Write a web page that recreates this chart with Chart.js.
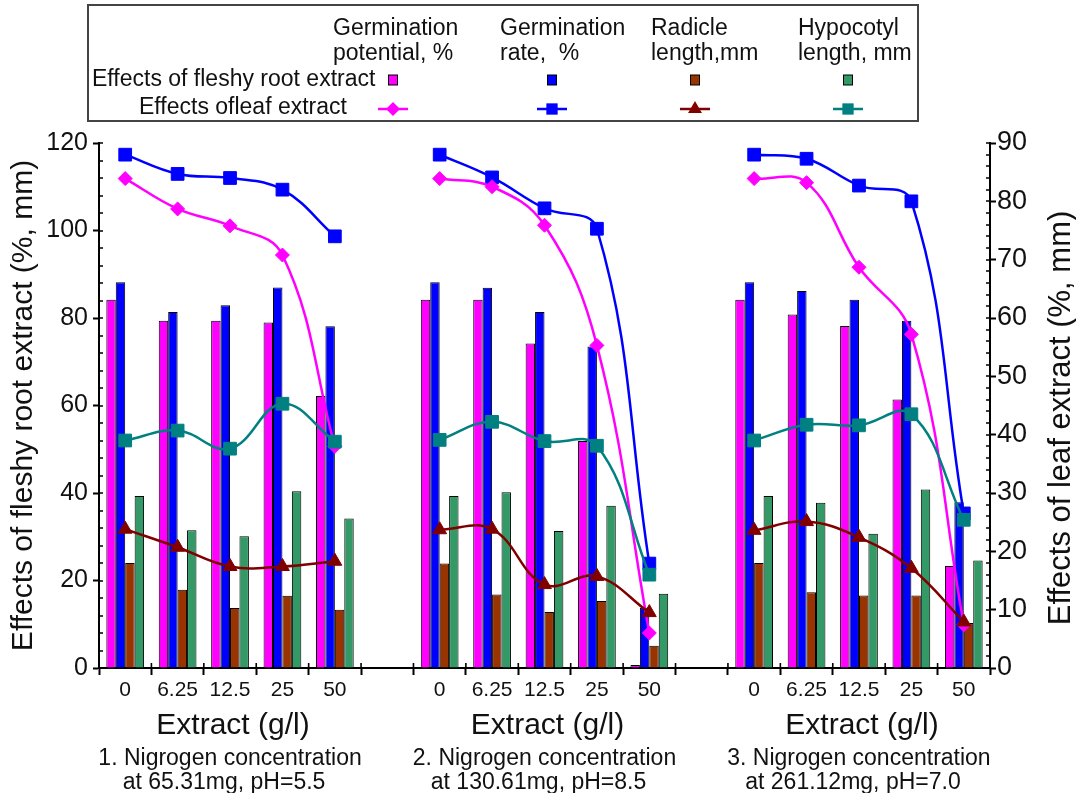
<!DOCTYPE html>
<html><head><meta charset="utf-8">
<script src="https://cdn.jsdelivr.net/npm/chart.js@4.4.1/dist/chart.umd.min.js"></script>
<style>html,body{margin:0;padding:0;background:#fff}</style>
</head><body>
<canvas id="c" width="1076" height="793"></canvas>
<script>
// ---------- data ----------
const concentrations = ['0', '6.25', '12.5', '25', '50'];
const xAxisTitle = 'Extract (g/l)';
const groupTitles = [
  ['1. Nigrogen concentration', 'at 65.31mg, pH=5.5'],
  ['2. Nigrogen concentration', 'at 130.61mg, pH=8.5'],
  ['3. Nigrogen concentration', 'at 261.12mg, pH=7.0']
];
const leftAxisTitle = 'Effects of fleshy root extract (%, mm)';
const rightAxisTitle = 'Effects of leaf extract (%, mm)';
const legendHeaders = [
  ['Germination', 'potential, %'],
  ['Germination', 'rate,  %'],
  ['Radicle', 'length,mm'],
  ['Hypocotyl', 'length, mm']
];
const legendRowLabels = ['Effects of fleshy root extract', 'Effects ofleaf extract'];

// fleshy root extract (bars, left axis), one list per nitrogen group
const rootGermPotential = [[84.2, 79.4, 79.4, 79.0, 62.2], [84.2, 84.2, 74.2, 51.9, 0.7], [84.2, 80.8, 78.2, 61.4, 23.3]];
const rootGermRate      = [[88.2, 81.4, 82.9, 87.0, 78.1], [88.2, 86.9, 81.4, 73.5, 13.8], [88.2, 86.2, 84.2, 79.4, 37.9]];
const rootRadicle       = [[24.0, 17.9, 13.7, 16.5, 13.3], [23.9, 16.8, 12.8, 15.3, 5.1], [24.0, 17.3, 16.6, 16.6, 10.3]];
const rootHypocotyl     = [[39.3, 31.5, 30.1, 40.4, 34.2], [39.3, 40.2, 31.3, 37.1, 17.0], [39.3, 37.8, 30.7, 40.8, 24.6]];
// leaf extract (lines, right axis)
const leafGermPotential = [[83.9, 78.7, 75.8, 70.8, 38.0], [83.9, 82.5, 75.9, 55.3, 6.0], [83.9, 83.2, 68.7, 57.2, 7.4]];
const leafGermRate      = [[88.0, 84.7, 84.0, 82.0, 74.0], [88.0, 84.1, 78.8, 75.3, 17.9], [88.0, 87.3, 82.7, 80.0, 26.5]];
const leafRadicle       = [[23.8, 20.7, 17.4, 17.4, 18.3], [23.7, 23.8, 14.3, 15.7, 9.5], [23.6, 25.1, 22.4, 17.1, 7.9]];
const leafHypocotyl     = [[39.0, 40.7, 37.6, 45.3, 38.8], [39.1, 42.2, 38.9, 38.1, 16.0], [39.0, 41.7, 41.6, 43.5, 25.4]];

// ---------- build library structures ----------
const labels = [];
groupTitles.forEach((g, i) => { labels.push(...concentrations); if (i < groupTitles.length - 1) labels.push(''); });
function withGaps(groups) {
  const out = [];
  groups.forEach((g, i) => { out.push(...g); if (i < groups.length - 1) out.push(null); });
  return out;
}

const FONT = "'Liberation Sans', Arial, Helvetica, sans-serif";
Chart.defaults.font.family = FONT;
Chart.defaults.color = '#111';

const C = {
  magenta: '#FF00FF', blue: '#0000FF', brown: '#993300', green: '#339966',
  wine: '#800000', teal: '#008080'
};

function lineDs(label, groups, color, style, r, legendIndex) {
  return {
    type: 'line', label, data: withGaps(groups), yAxisID: 'y1',
    borderColor: color, backgroundColor: color, borderWidth: 2.5,
    pointStyle: style, pointRadius: r, pointBackgroundColor: color,
    pointBorderColor: color, pointBorderWidth: 1, tension: 0.4,
    spanGaps: false, order: 0, legendIndex
  };
}
function barDs(label, groups, color, legendIndex) {
  return {
    type: 'bar', label, data: withGaps(groups), yAxisID: 'y',
    backgroundColor: color, borderColor: '#000', borderWidth: 1,
    categoryPercentage: 0.72, barPercentage: 1.0, order: 1, legendIndex
  };
}

// first listed line is drawn on top
const datasets = [
  lineDs('Leaf: hypocotyl length', leafHypocotyl, C.teal, 'rect', 9, 3),
  lineDs('Leaf: radicle length', leafRadicle, C.wine, 'triangle', 8, 2),
  lineDs('Leaf: germination potential', leafGermPotential, C.magenta, 'rectRot', 7, 0),
  lineDs('Leaf: germination rate', leafGermRate, C.blue, 'rect', 9, 1),
  barDs('Root: germination potential', rootGermPotential, C.magenta, 0),
  barDs('Root: germination rate', rootGermRate, C.blue, 1),
  barDs('Root: radicle length', rootRadicle, C.brown, 2),
  barDs('Root: hypocotyl length', rootHypocotyl, C.green, 3)
];

// ---------- custom drawing (legend table, titles, inner ticks) ----------
function drawMarker(ctx, style, cx, cy, r, color) {
  ctx.fillStyle = color;
  ctx.beginPath();
  if (style === 'rectRot') {
    ctx.moveTo(cx, cy - r); ctx.lineTo(cx + r, cy); ctx.lineTo(cx, cy + r); ctx.lineTo(cx - r, cy);
  } else if (style === 'triangle') {
    ctx.moveTo(cx, cy - r);
    ctx.lineTo(cx + r * Math.sin(2 * Math.PI / 3), cy - r * Math.cos(2 * Math.PI / 3));
    ctx.lineTo(cx + r * Math.sin(4 * Math.PI / 3), cy - r * Math.cos(4 * Math.PI / 3));
  } else {
    const s = Math.SQRT1_2 * r;
    ctx.rect(cx - s, cy - s, 2 * s, 2 * s);
  }
  ctx.closePath();
  ctx.fill();
}

const decor = {
  id: 'decor',
  afterDraw(chart) {
    const ctx = chart.ctx;
    const xs = chart.scales.x, yl = chart.scales.y, yr = chart.scales.y1;
    const ds = chart.data.datasets;
    ctx.save();
    // inner ticks
    ctx.strokeStyle = '#000';
    ctx.lineWidth = 1.6;
    ctx.beginPath();
    for (let v = yl.min; v <= yl.max; v += 4) {
      const p = Math.round(yl.getPixelForValue(v));
      ctx.moveTo(yl.right, p); ctx.lineTo(yl.right + 4, p);
    }
    for (let v = yr.min; v <= yr.max; v += 2) {
      const p = Math.round(yr.getPixelForValue(v));
      ctx.moveTo(yr.left, p); ctx.lineTo(yr.left - 4, p);
    }
    for (let i = 0; i <= labels.length; i++) {
      const p = xs.getPixelForValue(i - 0.5);
      ctx.moveTo(p, xs.top); ctx.lineTo(p, xs.top - 5);
    }
    ctx.stroke();

    // group titles under x axis
    ctx.fillStyle = '#111';
    ctx.textAlign = 'center';
    ctx.textBaseline = 'middle';
    groupTitles.forEach((lines, g) => {
      const cx = xs.getPixelForValue(g * (concentrations.length + 1) + (concentrations.length - 1) / 2);
      ctx.font = '30px ' + FONT;
      ctx.fillText(xAxisTitle, cx + 3, 726);
      ctx.font = '23px ' + FONT;
      ctx.fillText(lines[0], cx, 759);
      ctx.fillText(lines[1], cx - 6, 783);
    });

    // right axis title (reads bottom to top)
    ctx.save();
    ctx.translate(1061, 418);
    ctx.rotate(-Math.PI / 2);
    ctx.font = '31px ' + FONT;
    ctx.fillText(rightAxisTitle, 0, 0);
    ctx.restore();

    // legend table
    ctx.strokeStyle = '#444';
    ctx.lineWidth = 2;
    ctx.strokeRect(88, 5, 830, 116);
    ctx.font = '23px ' + FONT;
    ctx.textAlign = 'left';
    const headX = [333, 500, 651, 798];
    const markX = [393, 552, 695, 848];
    legendHeaders.forEach((h, i) => {
      ctx.fillText(h[0], headX[i], 29);
      ctx.fillText(h[1], headX[i], 54);
    });
    ctx.fillText(legendRowLabels[0], 92, 80);
    ctx.fillText(legendRowLabels[1], 139, 108);
    ds.filter(d => d.type === 'bar').forEach(d => {
      const mx = markX[d.legendIndex];
      ctx.fillStyle = d.backgroundColor;
      ctx.fillRect(mx - 4.5, 75, 9, 10);
      ctx.lineWidth = 1;
      ctx.strokeStyle = '#000';
      ctx.strokeRect(mx - 4.5, 75, 9, 10);
    });
    ds.filter(d => d.type === 'line').forEach(d => {
      const mx = markX[d.legendIndex];
      ctx.strokeStyle = d.borderColor;
      ctx.lineWidth = 2.5;
      ctx.beginPath();
      ctx.moveTo(mx - 15, 109); ctx.lineTo(mx + 15, 109);
      ctx.stroke();
      const r = d.pointStyle === 'rect' ? 8 : d.pointRadius;
      drawMarker(ctx, d.pointStyle, mx, 109, r, d.borderColor);
    });
    ctx.restore();
  }
};

new Chart(document.getElementById('c'), {
  type: 'bar',
  data: { labels, datasets },
  options: {
    responsive: false,
    animation: false,
    events: [],
    devicePixelRatio: 1,
    layout: { padding: { top: 143, left: 0, right: 0, bottom: 0 } },
    plugins: { legend: { display: false }, tooltip: { enabled: false } },
    scales: {
      x: {
        type: 'category', offset: true,
        grid: { offset: true, drawOnChartArea: false, drawTicks: true, tickLength: 7, tickWidth: 2, tickColor: '#000' },
        border: { display: true, color: '#000', width: 2 },
        ticks: { autoSkip: false, maxRotation: 0, minRotation: 0, padding: 3, color: '#111', font: { size: 21 } },
        afterFit(s) { s.height = 125; }
      },
      y: {
        position: 'left', min: 0, max: 120,
        ticks: { stepSize: 20, padding: 5, color: '#111', font: { size: 25 } },
        grid: { drawOnChartArea: false, tickLength: 6, tickWidth: 2, tickColor: '#000' },
        border: { display: true, color: '#000', width: 2 },
        title: { display: true, text: leftAxisTitle, color: '#111', font: { size: 30 }, padding: { top: 6, bottom: 0 } },
        afterFit(s) { s.width = 99; }
      },
      y1: {
        position: 'right', min: 0, max: 90,
        ticks: { stepSize: 10, padding: 1, color: '#111', font: { size: 27 } },
        grid: { drawOnChartArea: false, tickLength: 6, tickWidth: 2, tickColor: '#000' },
        border: { display: true, color: '#000', width: 2 },
        afterFit(s) { s.width = 86; }
      }
    }
  },
  plugins: [decor]
});
</script>
</body></html>
